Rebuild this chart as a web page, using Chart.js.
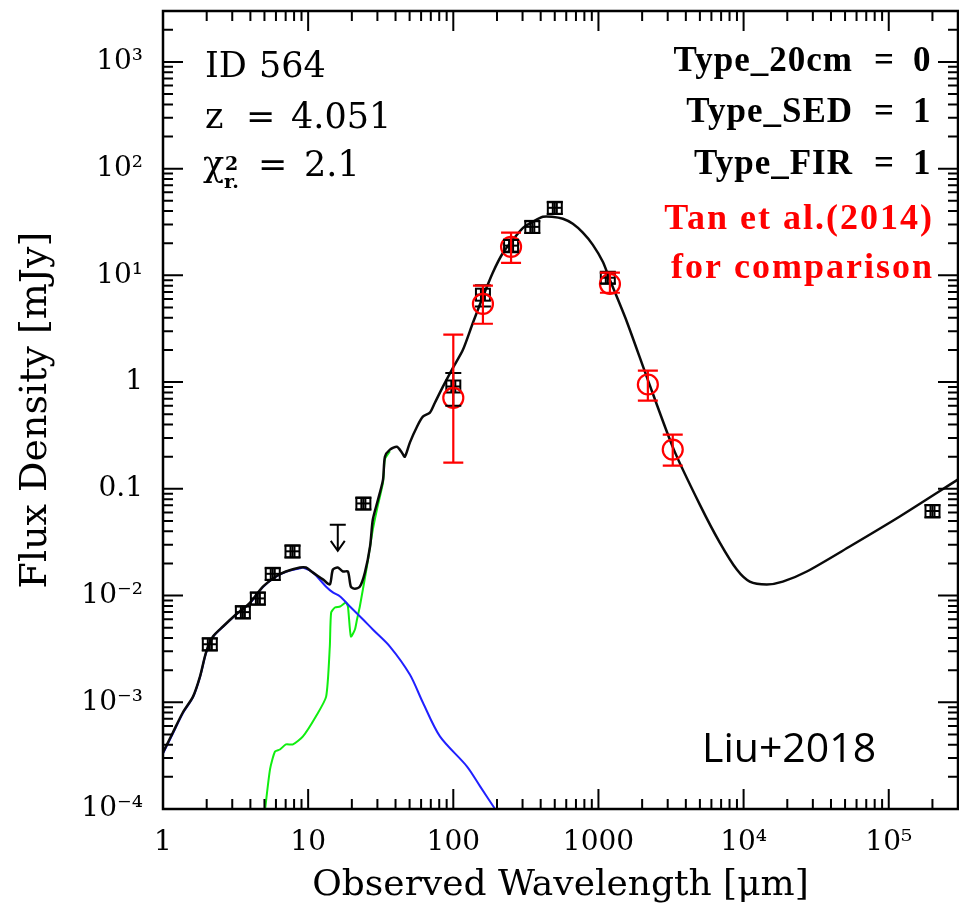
<!DOCTYPE html>
<html>
<head>
<meta charset="utf-8">
<script src="https://cdn.jsdelivr.net/npm/chart.js@4.4.1/dist/chart.umd.min.js"></script>
<style>
  html, body { margin: 0; padding: 0; background: #fff; }
  #wrap { width: 959px; height: 909px; }
</style>
</head>
<body>
<div id="wrap"><canvas id="sed" width="959" height="909"></canvas></div>
<script>
// wavelengths in micron, fluxes in mJy

// total best-fit model
const totalWave = [1, 1.17, 1.37, 1.61, 1.80, 1.98, 2.21, 2.59, 3.18, 3.98,
    4.88, 6.00, 7.03, 8.78, 9.66, 10.8, 12.7, 14.1, 14.8, 16.0,
    17.4, 18.8, 19.7, 21.0, 22.7, 24.6, 26.7, 27.9, 30.3, 32.8,
    33.8, 36.6, 40.9, 44.3, 46.4, 50.2, 56.2, 61.7, 69.0, 74.7,
    84.8, 99.4, 116.5, 136.5, 160, 187, 220, 257, 302, 353,
    414, 478, 569, 666, 781, 915, 1072, 1198, 1569, 2189,
    3306, 4993, 6856, 8979, 11030, 14450, 18620, 27250, 53870, 119100, 298700];
const totalFlux = [3.39e-4, 5.21e-4, 8.02e-4, 1.13e-3, 1.75e-3, 2.93e-3, 4.13e-3, 5.13e-3, 6.64e-3, 8.59e-3,
    1.21e-2, 1.51e-2, 1.68e-2, 1.83e-2, 1.83e-2, 1.64e-2, 1.41e-2, 1.27e-2, 1.75e-2, 1.83e-2,
    1.68e-2, 1.68e-2, 1.21e-2, 1.16e-2, 1.21e-2, 1.64e-2, 2.88e-2, 5.15e-2, 7.92e-2, 0.122,
    0.200, 0.233, 0.248, 0.218, 0.200, 0.271, 0.382, 0.474, 0.517, 0.641,
    0.906, 1.36, 2.01, 3.60, 6.31, 10.6, 16.3, 21.5, 27.9, 31.8,
    35.4, 35.4, 33.9, 30.4, 25.1, 19.3, 13.4, 9.10, 3.68, 1.05,
    0.233, 0.0711, 0.0313, 0.0175, 0.0135, 0.0127, 0.0135, 0.0168, 0.0288, 0.0550, 0.122];

// stellar component
const stellarWave = [1, 1.17, 1.37, 1.61, 1.80, 1.98, 2.21, 2.59, 3.18, 3.98,
    4.88, 6.00, 7.03, 8.78, 9.21, 10.8, 13.3, 14.8, 16.6, 19.4,
    23.9, 27.9, 36.6, 50.2, 61.7, 80.9, 124, 153, 194, 210];
const stellarFlux = [3.3e-4, 5.1e-4, 7.9e-4, 1.12e-3, 1.73e-3, 2.9e-3, 4.1e-3, 5.1e-3, 6.6e-3, 8.5e-3,
    1.2e-2, 1.5e-2, 1.67e-2, 1.80e-2, 1.83e-2, 1.64e-2, 1.21e-2, 1.07e-2, 9.8e-3, 7.89e-3,
    5.96e-3, 4.81e-3, 3.33e-3, 1.82e-3, 9.95e-4, 4.79e-4, 2.51e-4, 1.63e-4, 1.0e-4, 8.5e-5];

// warm dust / mid-IR component
const warmWave = [4.96, 5.46, 5.91, 6.39, 7.03, 7.86, 9.21, 11.3, 13.3, 14.1,
    14.4, 15.3, 16.6, 18.2, 18.8, 19.7, 21.0, 21.7, 22.7, 25.4,
    27.9, 30.3, 32.8, 33.8, 36.6];
const warmFlux = [8.0e-5, 2.35e-4, 3.46e-4, 3.61e-4, 4.03e-4, 4.03e-4, 4.79e-4, 7.36e-4, 1.13e-3, 3.33e-3,
    6.93e-3, 7.72e-3, 7.89e-3, 8.59e-3, 7.89e-3, 4.13e-3, 4.81e-3, 5.96e-3, 7.89e-3, 1.87e-2,
    4.15e-2, 7.11e-2, 0.115, 0.19, 0.225];

// photometry
const photWave = [2.1, 3.55, 4.5, 5.7, 7.8, 24, 100, 160, 250, 350, 500, 1160, 2.0e5];
const photFlux = [3.5e-3, 7.0e-3, 9.4e-3, 1.6e-2, 2.6e-2, 0.073, 0.91, 6.6, 19, 28.5, 43, 9.5, 0.062];
const photErr  = [0.45e-3, 0.9e-3, 1.2e-3, 2.0e-3, 3.3e-3, 0.009, 0.31, 1.5, 2.5, 3.6, 5.4, 1.1, 0.008];

// upper limit (arrow)
const limitWave = [16];
const limitFlux = [0.046];

// Tan et al. (2014)
const tanWave = [100, 160, 250, 1200, 2190, 3250];
const tanFlux = [0.71, 5.4, 18.5, 8.3, 0.95, 0.233];
const tanLow  = [0.176, 3.52, 13.1, 6.87, 0.67, 0.165];
const tanHigh = [2.78, 8.0, 25.1, 10.6, 1.28, 0.322];

// axes
const xTickValues = [1, 10, 100, 1000, 1e4, 1e5];
const xTickLabels = ['1', '10', '100', '1000', '10\u2074', '10\u2075'];
const yTickValues = [1e-4, 1e-3, 1e-2, 0.1, 1, 10, 100, 1000];
const yTickLabels = ['10\u207B\u2074', '10\u207B\u00B3', '10\u207B\u00B2', '0.1', '1', '10\u00B9', '10\u00B2', '10\u00B3'];

const SERIF = 'DejaVu Serif';
const RED = '#ff0000';

function pairs(xs, ys) {
    return xs.map((x, i) => ({ x: x, y: ys[i] }));
}

// open box with crossbars, as used for the photometry
function boxSymbol() {
    const c = document.createElement('canvas');
    c.width = 20; c.height = 18;
    const g = c.getContext('2d');
    g.strokeStyle = '#000';
    g.lineWidth = 2;
    g.strokeRect(3, 3, 14, 12);
    g.beginPath();
    g.moveTo(3, 9); g.lineTo(17, 9);
    g.moveTo(8, 3); g.lineTo(8, 15);
    g.moveTo(12, 3); g.lineTo(12, 15);
    g.stroke();
    return c;
}

// keep the plot frame exactly where the layout puts it
function noEdgePadding(s) {
    s.paddingTop = 0;
    s.paddingBottom = 0;
    s.paddingLeft = 0;
    s.paddingRight = 0;
}

function spaced(ctx, px) {
    if ('letterSpacing' in ctx) ctx.letterSpacing = px + 'px';
}

// frame, inward ticks, error bars, upper limit and labels
const sedDecor = {
    id: 'sedDecor',
    afterDatasetsDraw(chart) {
        const ctx = chart.ctx;
        const xs = chart.scales.x, ys = chart.scales.y;
        ctx.save();
        ctx.lineCap = 'butt';

        // photometry error caps
        ctx.strokeStyle = '#000';
        ctx.lineWidth = 2;
        photWave.forEach((w, i) => {
            const px = xs.getPixelForValue(w);
            const hi = ys.getPixelForValue(photFlux[i] + photErr[i]);
            const lo = ys.getPixelForValue(Math.max(photFlux[i] - photErr[i], 1e-6));
            ctx.beginPath();
            ctx.moveTo(px, hi); ctx.lineTo(px, lo);
            ctx.moveTo(px - 8, hi); ctx.lineTo(px + 8, hi);
            ctx.moveTo(px - 8, lo); ctx.lineTo(px + 8, lo);
            ctx.stroke();
        });

        // upper limit arrow
        limitWave.forEach((w, i) => {
            const px = xs.getPixelForValue(w);
            const py = ys.getPixelForValue(limitFlux[i]);
            ctx.beginPath();
            ctx.moveTo(px - 8, py); ctx.lineTo(px + 8, py);
            ctx.moveTo(px, py); ctx.lineTo(px, py + 26);
            ctx.moveTo(px - 7, py + 16); ctx.lineTo(px, py + 26); ctx.lineTo(px + 7, py + 16);
            ctx.stroke();
        });

        // Tan et al. error bars
        ctx.strokeStyle = RED;
        ctx.lineWidth = 2.2;
        tanWave.forEach((w, i) => {
            const px = xs.getPixelForValue(w);
            const hi = ys.getPixelForValue(tanHigh[i]);
            const lo = ys.getPixelForValue(tanLow[i]);
            ctx.beginPath();
            ctx.moveTo(px, hi); ctx.lineTo(px, lo);
            ctx.moveTo(px - 10, hi); ctx.lineTo(px + 10, hi);
            ctx.moveTo(px - 10, lo); ctx.lineTo(px + 10, lo);
            ctx.stroke();
        });
        ctx.restore();
    },
    afterDraw(chart) {
        const ctx = chart.ctx;
        const a = chart.chartArea;
        const xs = chart.scales.x, ys = chart.scales.y;
        ctx.save();
        ctx.strokeStyle = '#000';

        // ticks pointing into the plot on all four sides
        ctx.lineWidth = 2;
        ctx.beginPath();
        for (let d = 0; d <= 5; d++) {
            for (let m = 1; m <= 9; m++) {
                const v = m * Math.pow(10, d);
                if (v > xs.max) break;
                const px = xs.getPixelForValue(v);
                const len = m === 1 ? 20 : 10;
                ctx.moveTo(px, a.bottom); ctx.lineTo(px, a.bottom - len);
                ctx.moveTo(px, a.top); ctx.lineTo(px, a.top + len);
            }
        }
        for (let d = -4; d <= 3; d++) {
            for (let m = 1; m <= 9; m++) {
                const v = m * Math.pow(10, d);
                if (v > ys.max) break;
                const py = ys.getPixelForValue(v);
                const len = m === 1 ? 20 : 10;
                ctx.moveTo(a.left, py); ctx.lineTo(a.left + len, py);
                ctx.moveTo(a.right, py); ctx.lineTo(a.right - len, py);
            }
        }
        ctx.stroke();

        ctx.lineWidth = 2.5;
        ctx.strokeRect(a.left, a.top, a.right - a.left, a.bottom - a.top);

        // fit summary
        ctx.fillStyle = '#000';
        ctx.textBaseline = 'alphabetic';
        ctx.textAlign = 'left';
        ctx.font = '35px "' + SERIF + '"';
        ctx.fillText('ID', 205, 77);
        ctx.fillText('564', 259, 77);
        ctx.fillText('z', 205, 128);
        ctx.fillText('=', 246, 128);
        ctx.fillText('4.051', 291, 128);
        ctx.fillText('\u03C7', 203, 176);
        ctx.fillText('=', 258, 176);
        ctx.fillText('2.1', 304, 176);
        ctx.font = 'bold 19px "' + SERIF + '"';
        ctx.fillText('2', 225, 170);
        ctx.fillText('r.', 224, 188);

        ctx.font = 'bold 35px "Liberation Serif"';
        spaced(ctx, 1);
        [['Type_20cm', '0', 71], ['Type_SED', '1', 122], ['Type_FIR', '1', 174]].forEach(r => {
            ctx.textAlign = 'right';
            ctx.fillText(r[0], 853, r[2]);
            ctx.textAlign = 'left';
            ctx.fillText('=', 874, r[2]);
            ctx.fillText(r[1], 913, r[2]);
        });
        ctx.fillStyle = RED;
        ctx.textAlign = 'right';
        ctx.font = 'bold 36px "Liberation Serif"';
        spaced(ctx, 2);
        ctx.fillText('Tan et al.(2014)', 934, 229);
        ctx.fillText('for comparison', 934, 278);
        spaced(ctx, 0);

        ctx.fillStyle = '#000';
        ctx.textAlign = 'left';
        ctx.font = '41px "Open Sans"';
        ctx.fillText('Liu+2018', 702, 762);
        ctx.restore();
    }
};

const ctx = document.getElementById('sed').getContext('2d');
const sedChart = new Chart(ctx, {
    type: 'scatter',
    data: {
        datasets: [
            {
                label: 'Tan et al. (2014)',
                data: pairs(tanWave, tanFlux),
                pointStyle: 'circle',
                pointRadius: 10,
                borderColor: RED,
                backgroundColor: 'rgba(0,0,0,0)',
                borderWidth: 2.2
            },
            {
                label: 'photometry',
                data: pairs(photWave, photFlux),
                pointStyle: boxSymbol(),
                pointRadius: 8
            },
            {
                label: 'total',
                type: 'line',
                data: pairs(totalWave, totalFlux),
                borderColor: '#0a0a0a',
                borderWidth: 2.5,
                pointRadius: 0,
                tension: 0.25,
                fill: false
            },
            {
                label: 'stellar',
                type: 'line',
                data: pairs(stellarWave, stellarFlux),
                borderColor: '#2020ff',
                borderWidth: 2,
                pointRadius: 0,
                tension: 0.3,
                fill: false
            },
            {
                label: 'warm dust',
                type: 'line',
                data: pairs(warmWave, warmFlux),
                borderColor: '#10ee10',
                borderWidth: 2,
                pointRadius: 0,
                tension: 0.2,
                fill: false
            }
        ]
    },
    options: {
        responsive: false,
        animation: false,
        layout: { autoPadding: false, padding: { top: 11, right: 1, left: 0, bottom: 0 } },
        plugins: {
            legend: { display: false },
            tooltip: { enabled: false }
        },
        scales: {
            x: {
                type: 'logarithmic',
                position: 'bottom',
                min: 1,
                max: 3e5,
                grid: { display: false, drawTicks: false },
                border: { display: false },
                afterBuildTicks: s => { s.ticks = xTickValues.map(v => ({ value: v })); },
                afterFit: s => { s.height = 100; noEdgePadding(s); },
                ticks: {
                    autoSkip: false,
                    maxRotation: 0,
                    padding: 17,
                    color: '#000',
                    font: { family: SERIF, size: 28 },
                    callback: (v, i) => xTickLabels[i]
                },
                title: {
                    display: true,
                    text: 'Observed Wavelength [\u03BCm]',
                    color: '#000',
                    font: { family: SERIF, size: 36 },
                    padding: { top: 0, bottom: 2 }
                }
            },
            y: {
                type: 'logarithmic',
                position: 'left',
                min: 1e-4,
                max: 3000,
                grid: { display: false, drawTicks: false },
                border: { display: false },
                afterBuildTicks: s => { s.ticks = yTickValues.map(v => ({ value: v })); },
                afterFit: s => { s.width = 163; noEdgePadding(s); },
                ticks: {
                    autoSkip: false,
                    padding: 20,
                    color: '#000',
                    font: { family: SERIF, size: 28 },
                    callback: (v, i) => yTickLabels[i]
                },
                title: {
                    display: true,
                    text: 'Flux Density [mJy]',
                    color: '#000',
                    font: { family: SERIF, size: 38 },
                    padding: { top: 13, bottom: 0 }
                }
            }
        }
    },
    plugins: [sedDecor]
});
</script>
</body>
</html>
